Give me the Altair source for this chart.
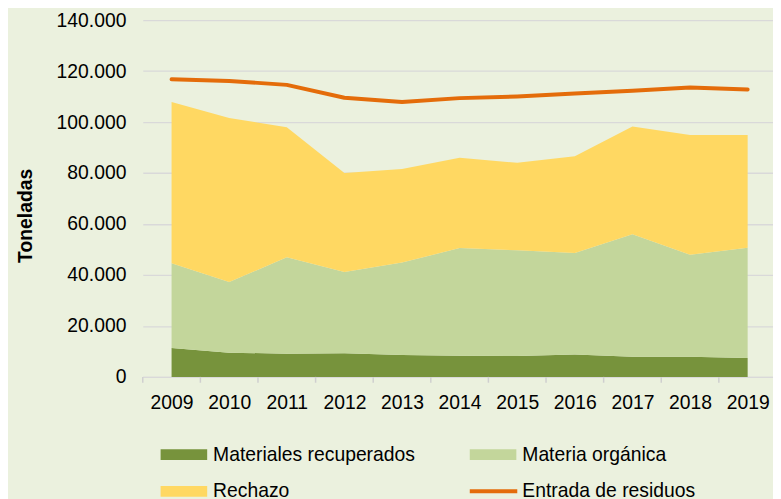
import altair as alt
import pandas as pd

# ---- data ----
years = [2009, 2010, 2011, 2012, 2013, 2014, 2015, 2016, 2017, 2018, 2019]
series = ["Materiales recuperados", "Materia orgánica", "Rechazo", "Entrada de residuos"]
materiales = [11300, 9500, 9100, 9300, 8600, 8300, 8200, 8800, 7900, 7900, 7400]
organica = [33300, 27700, 37850, 31900, 36250, 42250, 41450, 39800, 48100, 40050, 43300]
rechazo = [63250, 64400, 51050, 38800, 36700, 35400, 34350, 38000, 42250, 46950, 44200]
entrada = [116800, 116150, 114600, 109550, 107850, 109400, 110050, 111200, 112250, 113550, 112800]
y_ticks = [0, 20000, 40000, 60000, 80000, 100000, 120000, 140000]

colors = ["#77933c", "#c3d69b", "#ffd862", "#e46c0a"]
rect_path = "M-1,-0.234L1,-0.234L1,0.234L-1,0.234Z"
line_path = "M-1,-0.085L1.04,-0.085L1.04,0.085L-1,0.085Z"

rows = []
for i, yr in enumerate(years):
    for k, vals in enumerate([materiales, organica, rechazo]):
        rows.append({"year": yr, "serie": series[k], "valor": vals[i], "orden": k})
area_df = pd.DataFrame(rows)
line_df = pd.DataFrame({"year": years, "serie": series[3], "valor": entrada})
bound_df = pd.DataFrame({"b": [yr - 0.5 for yr in years], "lo": [0] * len(years), "hi": [-2300] * len(years)})

FONT = "Liberation Sans"

x_axis = alt.Axis(
    title=None,
    values=years,
    format="d",
    grid=False,
    domain=True,
    domainColor="#d9d9d9",
    domainWidth=1.5,
    ticks=False,
    tickSize=0,
    labelPadding=17,
    labelFont=FONT,
    labelFontSize=19.5,
    labelColor="#000000",
    labelOverlap=False,
    labelFlush=False,
)
y_axis = alt.Axis(
    title="Toneladas",
    titleFont=FONT,
    titleFontSize=19.5,
    titleFontWeight="bold",
    titleColor="#000000",
    titleX=-118,
    titleY=197,
    titleAngle=270,
    titleAlign="center",
    titleBaseline="middle",
    values=y_ticks,
    labelExpr="replace(format(datum.value, ','), ',', '.')",
    domain=False,
    ticks=False,
    tickSize=0,
    grid=True,
    gridColor="#d9d9d9",
    gridWidth=1.3,
    labelPadding=17,
    labelFont=FONT,
    labelFontSize=19.5,
    labelColor="#000000",
)

symbol_expr = "datum.value == '%s' ? '%s' : '%s'" % (series[3], line_path, rect_path)

legend = alt.Legend(
    title=None,
    orient="none",
    direction="horizontal",
    legendX=18,
    legendY=415,
    columns=2,
    columnPadding=55,
    rowPadding=4,
    padding=0,
    symbolType=alt.ExprRef(expr=symbol_expr),
    symbolSize=2209,
    symbolStrokeWidth=0,
    symbolOpacity=1,
    labelOffset=6,
    labelFont=FONT,
    labelFontSize=19.5,
    labelColor="#000000",
    labelLimit=400,
)

x_scale = alt.Scale(domain=[2008.5, 2019.44], nice=False, zero=False)
x_enc = alt.X("year:Q", scale=x_scale, axis=x_axis)
y_scale = alt.Scale(domain=[0, 140000], nice=False)
color_scale = alt.Scale(domain=series, range=colors)

areas = alt.Chart(area_df).mark_area(opacity=1, interpolate="linear").encode(
    x=x_enc,
    y=alt.Y("valor:Q", stack="zero", scale=y_scale, axis=y_axis),
    color=alt.Color("serie:N", scale=color_scale, legend=legend),
    order=alt.Order("orden:Q", sort="ascending"),
)

ticks = alt.Chart(bound_df).mark_rule(strokeWidth=1.5, color="#cfcfcf").encode(
    x=alt.X("b:Q", scale=x_scale, axis=x_axis),
    y=alt.Y("lo:Q", scale=y_scale, axis=y_axis),
    y2="hi:Q",
)

line = alt.Chart(line_df).mark_line(strokeWidth=4, strokeCap="round", strokeJoin="round").encode(
    x=x_enc,
    y=alt.Y("valor:Q", stack=None, scale=y_scale, axis=y_axis),
    color=alt.Color("serie:N", scale=color_scale, legend=legend),
)

chart = alt.layer(areas, ticks, line).properties(
    width=636,
    height=360,
    background="#ebf1de",
    autosize=alt.AutoSizeParams(type="none"),
    padding={"left": 136, "top": 10, "right": 0, "bottom": 122},
).configure_view(
    stroke=None,
)

chart.save("out.html", embed_options={"renderer": "svg", "actions": False})
